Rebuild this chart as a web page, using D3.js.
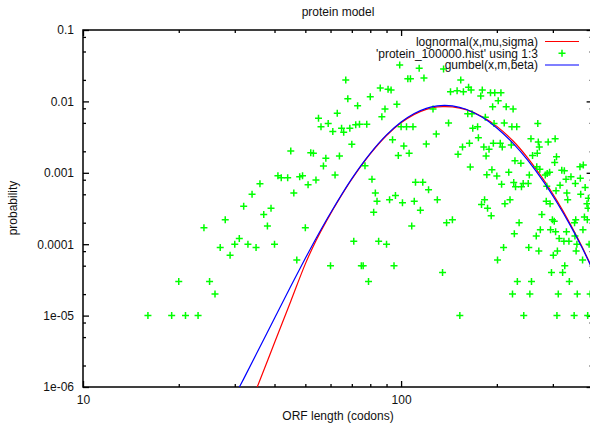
<!DOCTYPE html>
<html>
<head>
<meta charset="utf-8">
<script src="https://cdn.jsdelivr.net/npm/d3@7"></script>
<style>
  body { margin: 0; background: #fff; }
  svg { display: block; font-family: "Liberation Sans", Arial, Helvetica, sans-serif; }
</style>
</head>
<body>
<div class="graph"></div>
<script>
// ticks
var xTickVals = [10, 100], xTickLabels = ['10', '100'];
var xMinorVals = [20, 30, 40, 50, 60, 70, 80, 90, 200, 300];
var yTickVals = [1e-6, 1e-5, 1e-4, 1e-3, 1e-2, 1e-1];
var yTickLabels = ['1e-06', '1e-05', '0.0001', '0.001', '0.01', '0.1'];
var yMinorVals = [2e-6, 5e-6, 8e-6, 2e-5, 5e-5, 8e-5, 2e-4, 5e-4, 8e-4,
                  2e-3, 5e-3, 8e-3, 2e-2, 5e-2, 8e-2];

// 'protein_100000.hist' using 1:3  (ORF length, probability)
var histLen = [16, 19, 21, 23, 20, 25, 26, 24, 28, 32, 34, 36, 41, 37, 39, 38, 27, 30, 31, 33,
  35, 40, 29, 45, 42, 44, 48, 46, 47, 70, 102, 120, 52, 53, 58, 64, 57, 62, 77, 49,
  54, 51, 81, 98, 106, 83, 84, 92, 96, 101, 110, 115, 111, 117, 122, 130, 82, 50, 108, 139,
  145, 71, 85, 90, 60, 75, 76, 95, 135, 79, 99, 114, 67, 105, 107, 118, 136, 154, 86, 91,
  93, 143, 150, 157, 163, 166, 180, 191, 197, 206, 178, 68, 80, 202, 89, 97, 87, 126, 194, 214,
  225, 73, 63, 55, 56, 59, 61, 65, 66, 69, 72, 74, 78, 100, 104, 109, 141, 162, 167, 168,
  174, 184, 196, 211, 223, 231, 269, 94, 129, 156, 164, 175, 182, 195, 205, 208, 256, 270, 272, 290,
  305, 151, 165, 185, 189, 186, 193, 200, 218, 207, 228, 238, 259, 268, 308, 304, 267, 273, 288, 293,
  284, 253, 226, 229, 239, 242, 251, 220, 212, 183, 179, 187, 192, 287, 316, 330, 342, 353, 366, 374,
  365, 320, 326, 307, 332, 334, 367, 379, 388, 384, 286, 294, 277, 299, 303, 274, 295, 306, 235, 227,
  266, 314, 331, 354, 351, 373, 377, 325, 337, 352, 357, 210, 252, 271, 310, 355, 301, 201, 372, 327,
  297, 322, 232, 257, 338, 224, 254, 312, 358, 393, 153, 243, 309, 350, 386, 222, 387, 385, 390];
var histProb = [1e-5, 1e-5, 1e-5, 1e-5, 3e-5, 3e-5, 2e-5, 1.7e-4, 2.2e-4, 3.4e-4, 5.0e-4, 7.0e-4, 9.1e-4, 2.6e-4, 3.2e-4, 1.8e-4, 9e-5, 1.0e-4, 1.2e-4, 1.0e-4,
  9e-5, 1.0e-4, 7e-5, 2.02e-3, 8.5e-4, 8.5e-4, 8.8e-4, 5.2e-4, 6e-5, 2.51e-3, 2.37e-3, 2.53e-3, 1.91e-3, 1.88e-3, 1.60e-3, 1.72e-3, 1.25e-3, 9.3e-4, 1.26e-3, 9.1e-4,
  7.9e-4, 6.8e-4, 8.1e-4, 1.74e-3, 1.88e-3, 5.2e-4, 4.0e-4, 4.2e-4, 4.8e-4, 3.8e-4, 4.0e-4, 3.0e-4, 7.4e-4, 7.4e-4, 5.8e-4, 4.2e-4, 2.8e-4, 1.7e-4, 1.8e-4, 2.0e-4,
  2.2e-4, 1.1e-4, 1.1e-4, 1.0e-4, 5e-5, 5e-5, 5e-5, 5e-5, 4e-5, 3e-5, 3.24e-2, 2.91e-2, 1.99e-2, 2.08e-2, 2.08e-2, 2.13e-2, 2.84e-2, 1.99e-2, 1.54e-2, 1.48e-2,
  1.44e-2, 1.37e-2, 1.41e-2, 1.37e-2, 1.58e-2, 1.44e-2, 1.44e-2, 1.32e-2, 1.32e-2, 1.32e-2, 1.19e-2, 1.09e-2, 1.16e-2, 1.02e-2, 7.8e-3, 9.1e-3, 6.1e-3, 7.8e-3, 8.4e-3, 8.4e-3,
  7.8e-3, 8.7e-3, 6.8e-3, 5.8e-3, 4.4e-3, 4.9e-3, 3.8e-3, 4.2e-3, 3.7e-3, 4.2e-3, 4.7e-3, 4.8e-3, 4.8e-3, 4.4e-3, 4.4e-3, 4.4e-3, 5.0e-3, 6.7e-3, 6.7e-3, 4.2e-3,
  4.4e-3, 6.0e-3, 4.9e-3, 5.0e-3, 4.4e-3, 4.4e-3, 4.9e-3, 2.9e-3, 3.5e-3, 2.3e-3, 2.6e-3, 3.1e-3, 2.3e-3, 2.6e-3, 2.6e-3, 2.3e-3, 3.0e-3, 2.7e-3, 2.3e-3, 2.7e-3,
  3.0e-3, 1.82e-3, 1.21e-3, 1.72e-3, 2.13e-3, 9.4e-4, 1.10e-3, 9.0e-4, 1.02e-3, 6.9e-4, 1.48e-3, 1.36e-3, 1.74e-3, 1.88e-3, 1.68e-3, 1.39e-3, 1.22e-3, 1.12e-3, 9.8e-4, 1.02e-3,
  9.3e-4, 9.3e-4, 7.3e-4, 6.4e-4, 6.4e-4, 7.1e-4, 7.1e-4, 4.2e-4, 3.7e-4, 4.2e-4, 3.6e-4, 3.2e-4, 2.5e-4, 6.5e-4, 6.7e-4, 8.1e-4, 8.8e-4, 7.1e-4, 8.4e-4, 1.29e-3,
  1.22e-3, 1.09e-3, 1.07e-3, 5.6e-4, 5.2e-4, 4.2e-4, 5.0e-4, 6.2e-4, 4.4e-4, 3.7e-4, 4.0e-4, 3.7e-4, 2.6e-4, 2.2e-4, 2.1e-4, 1.6e-4, 1.6e-4, 1.5e-4, 2.0e-4, 1.4e-4,
  1.3e-4, 1.2e-4, 1.5e-4, 2.2e-4, 2.0e-4, 1.6e-4, 2.4e-4, 1.1e-4, 1.1e-4, 1.3e-4, 1.0e-4, 9e-5, 9e-5, 8e-5, 8e-5, 8e-5, 7e-5, 6e-5, 6e-5, 5e-5,
  4e-5, 4e-5, 3e-5, 3e-5, 3e-5, 2e-5, 2e-5, 2e-5, 2e-5, 2e-5, 1e-5, 1e-5, 1e-5, 1e-5, 1e-5, 2.45e-3, 3.2e-4, 2.2e-4, 1.0e-4];

// lognormal(x,mu,sigma)
var lognormX = [34, 35.3, 40, 45, 50, 54, 58, 65, 70, 80, 90, 100, 110, 120, 130, 137, 145, 160, 180, 200, 225, 250, 280, 310, 340, 370, 400];
var lognormP = [6.5e-7, 1.0e-6, 4.16e-6, 1.59e-5, 5.30e-5, 1.12e-4, 2.04e-4, 4.84e-4, 8.13e-4, 1.84e-3, 3.33e-3, 5.01e-3, 6.58e-3, 7.73e-3, 8.38e-3, 8.45e-3, 8.36e-3, 7.67e-3, 6.10e-3, 4.47e-3, 2.79e-3, 1.62e-3, 8.13e-4, 3.98e-4, 1.93e-4, 9.33e-5, 4.47e-5];

// gumbel(x,m,beta)
var gumbelX = [30, 32, 35, 40, 45, 50, 55, 60, 70, 80, 90, 100, 110, 120, 130, 137, 145, 160, 180, 200, 225, 250, 280, 310, 340, 370, 400];
var gumbelP = [7.5e-7, 1.30e-6, 2.85e-6, 9.2e-6, 2.58e-5, 6.34e-5, 1.39e-4, 2.74e-4, 8.28e-4, 1.87e-3, 3.39e-3, 5.14e-3, 6.77e-3, 8.00e-3, 8.67e-3, 8.80e-3, 8.65e-3, 7.75e-3, 5.98e-3, 4.25e-3, 2.58e-3, 1.50e-3, 7.57e-4, 3.75e-4, 1.85e-4, 9.05e-5, 4.42e-5];

var legendLabels = ['lognormal(x,mu,sigma)', "'protein_100000.hist' using 1:3", 'gumbel(x,m,beta)'];

// svg 영역
var w = 590, h = 423;
var M = {top: 30, left: 83, right: 592.6, bottom: 387};
var svg = d3.select('div.graph').append('svg').attr('width', w).attr('height', h);

var x = d3.scaleLog().domain([10, 400]).range([M.left, M.right]);
var y = d3.scaleLog().domain([1e-6, 0.1]).range([M.bottom, M.top]);

svg.append('clipPath').attr('id', 'plotclip').append('rect')
    .attr('x', M.left).attr('y', M.top)
    .attr('width', M.right - M.left).attr('height', M.bottom - M.top);

// axes (ticks pointing inward on all four sides)
function styleAxis(g){
    g.select('.domain').remove();
    g.selectAll('.tick line').attr('stroke', '#000').attr('stroke-width', 1.3);
    g.selectAll('.tick text').attr('fill', '#111').style('font-size', '12px')
        .style('font-family', '"Liberation Sans", Arial, sans-serif');
}
var xi = 0, yi = 0;
svg.append('g').attr('transform', 'translate(0,' + M.bottom + ')')
    .call(d3.axisBottom(x).tickValues(xTickVals).tickSize(-6).tickPadding(8)
        .tickFormat(function(d, i){ return xTickLabels[i]; }))
    .call(styleAxis);
svg.append('g').attr('transform', 'translate(0,' + M.bottom + ')')
    .call(d3.axisBottom(x).tickValues(xMinorVals).tickSize(-3).tickFormat(''))
    .call(styleAxis);
svg.append('g').attr('transform', 'translate(0,' + M.top + ')')
    .call(d3.axisTop(x).tickValues(xTickVals).tickSize(-6).tickFormat(''))
    .call(styleAxis);
svg.append('g').attr('transform', 'translate(0,' + M.top + ')')
    .call(d3.axisTop(x).tickValues(xMinorVals).tickSize(-3).tickFormat(''))
    .call(styleAxis);
svg.append('g').attr('transform', 'translate(' + M.left + ',0)')
    .call(d3.axisLeft(y).tickValues(yTickVals).tickSize(-6).tickPadding(9)
        .tickFormat(function(d, i){ return yTickLabels[i]; }))
    .call(styleAxis);
svg.append('g').attr('transform', 'translate(' + M.left + ',0)')
    .call(d3.axisLeft(y).tickValues(yMinorVals).tickSize(-3).tickFormat(''))
    .call(styleAxis);
svg.append('g').attr('transform', 'translate(' + M.right + ',0)')
    .call(d3.axisRight(y).tickValues(yTickVals).tickSize(-6).tickFormat(''))
    .call(styleAxis);
svg.append('g').attr('transform', 'translate(' + M.right + ',0)')
    .call(d3.axisRight(y).tickValues(yMinorVals).tickSize(-3).tickFormat(''))
    .call(styleAxis);

// border
svg.append('rect').attr('x', M.left).attr('y', M.top)
    .attr('width', M.right - M.left).attr('height', M.bottom - M.top)
    .attr('fill', 'none').attr('stroke', '#000').attr('stroke-width', 1.5);

var plot = svg.append('g').attr('clip-path', 'url(#plotclip)');

var line = d3.line()
    .x(function(d){ return x(d[0]); })
    .y(function(d){ return y(d[1]); })
    .curve(d3.curveCatmullRom.alpha(0.5));

function plus(g, cx, cy){
    g.append('path')
        .attr('d', 'M' + (cx - 3.5) + ',' + cy + 'H' + (cx + 3.5) + 'M' + cx + ',' + (cy - 3.5) + 'V' + (cy + 3.5))
        .attr('stroke', '#00ff00').attr('stroke-width', 1.5).attr('fill', 'none');
}

// lognormal (red)
plot.append('path').datum(d3.zip(lognormX, lognormP))
    .attr('d', line).attr('fill', 'none').attr('stroke', '#ff0000').attr('stroke-width', 1.2);

// histogram points
var pts = plot.append('g');
d3.zip(histLen, histProb).forEach(function(d){ plus(pts, x(d[0]), y(d[1])); });

// gumbel (blue)
plot.append('path').datum(d3.zip(gumbelX, gumbelP))
    .attr('d', line).attr('fill', 'none').attr('stroke', '#0000ff').attr('stroke-width', 1.2);

// legend
var legY = [41.5, 53.3, 65];
var leg = svg.append('g').style('font-size', '12px');
legendLabels.forEach(function(t, i){
    leg.append('text').attr('x', 538).attr('y', legY[i]).attr('dy', '0.35em')
        .attr('text-anchor', 'end').attr('fill', '#111').text(t);
});
leg.append('line').attr('x1', 545).attr('x2', 579).attr('y1', legY[0]).attr('y2', legY[0])
    .attr('stroke', '#ff0000').attr('stroke-width', 1.2);
plus(leg, 562, legY[1]);
leg.append('line').attr('x1', 545).attr('x2', 579).attr('y1', legY[2]).attr('y2', legY[2])
    .attr('stroke', '#0000ff').attr('stroke-width', 1.2);

// title and axis labels
svg.append('text').attr('x', 338).attr('y', 16).attr('text-anchor', 'middle')
    .style('font-size', '12px').attr('fill', '#111').text('protein model');
svg.append('text').attr('x', 338).attr('y', 420).attr('text-anchor', 'middle')
    .style('font-size', '12px').attr('fill', '#111').text('ORF length (codons)');
svg.append('text').attr('transform', 'translate(17,208) rotate(-90)').attr('text-anchor', 'middle')
    .style('font-size', '12px').attr('fill', '#111').text('probability');
</script>
</body>
</html>
